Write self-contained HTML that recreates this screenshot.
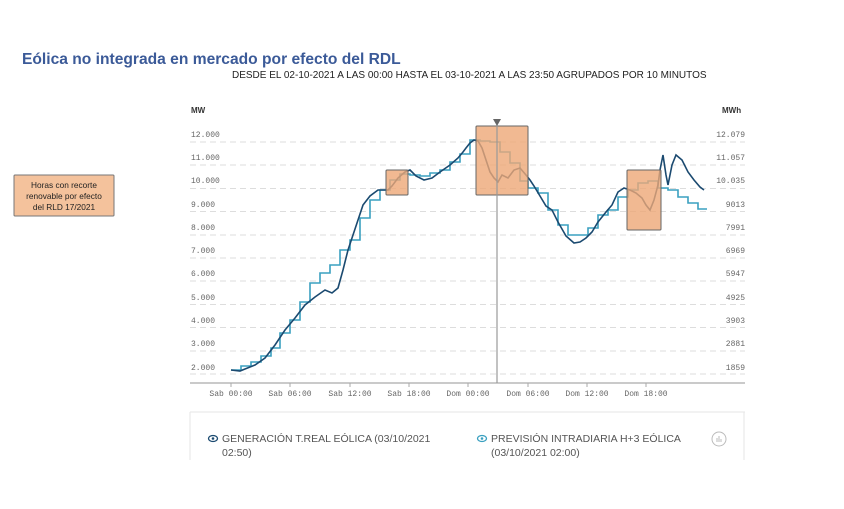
<!DOCTYPE html>
<html><head><meta charset="utf-8"><style>
body{margin:0;background:#fff;width:844px;height:509px;overflow:hidden;font-family:"Liberation Sans",sans-serif}
</style></head><body>
<svg width="844" height="509" xmlns="http://www.w3.org/2000/svg" style="position:absolute;left:0;top:0">
<text x="22" y="64" font-family="Liberation Sans" font-weight="bold" font-size="15.6" fill="#3b5a98">Eólica no integrada en mercado por efecto del RDL</text>
<text x="232" y="78" font-family="Liberation Sans" font-size="10" fill="#222">DESDE EL 02-10-2021 A LAS 00:00 HASTA EL 03-10-2021 A LAS 23:50 AGRUPADOS POR 10 MINUTOS</text>
<text x="191" y="113" font-family="Liberation Sans" font-weight="bold" font-size="8" fill="#333">MW</text>
<text x="722" y="113" font-family="Liberation Sans" font-weight="bold" font-size="8" fill="#333">MWh</text>
<g stroke="#ddd" stroke-width="1" stroke-dasharray="6,4">
<line x1="190" x2="745" y1="142" y2="142"/><line x1="190" x2="745" y1="165" y2="165"/><line x1="190" x2="745" y1="188.5" y2="188.5"/><line x1="190" x2="745" y1="211.5" y2="211.5"/><line x1="190" x2="745" y1="235" y2="235"/><line x1="190" x2="745" y1="258" y2="258"/><line x1="190" x2="745" y1="281" y2="281"/><line x1="190" x2="745" y1="304.5" y2="304.5"/><line x1="190" x2="745" y1="327.5" y2="327.5"/><line x1="190" x2="745" y1="351" y2="351"/><line x1="190" x2="745" y1="374" y2="374"/>
</g>
<g font-family="Liberation Mono" font-size="8" fill="#666">
<text x="191" y="137">12.000</text><text x="191" y="160">11.000</text><text x="191" y="183">10.000</text><text x="191" y="207">9.000</text><text x="191" y="230">8.000</text><text x="191" y="253">7.000</text><text x="191" y="276">6.000</text><text x="191" y="300">5.000</text><text x="191" y="323">4.000</text><text x="191" y="346">3.000</text><text x="191" y="370">2.000</text>
</g>
<g font-family="Liberation Mono" font-size="8" fill="#666" text-anchor="end">
<text x="745" y="137">12.079</text><text x="745" y="160">11.057</text><text x="745" y="183">10.035</text><text x="745" y="207">9013</text><text x="745" y="230">7991</text><text x="745" y="253">6969</text><text x="745" y="276">5947</text><text x="745" y="300">4925</text><text x="745" y="323">3903</text><text x="745" y="346">2881</text><text x="745" y="370">1859</text>
</g>
<line x1="190" x2="745" y1="383" y2="383" stroke="#aaa" stroke-width="1.2"/>
<g stroke="#aaa"><line x1="231" x2="231" y1="383" y2="387"/><line x1="290" x2="290" y1="383" y2="387"/><line x1="350" x2="350" y1="383" y2="387"/><line x1="409" x2="409" y1="383" y2="387"/><line x1="468" x2="468" y1="383" y2="387"/><line x1="528" x2="528" y1="383" y2="387"/><line x1="587" x2="587" y1="383" y2="387"/><line x1="646" x2="646" y1="383" y2="387"/></g>
<g font-family="Liberation Mono" font-size="8" fill="#666" text-anchor="middle">
<text x="231" y="396">Sab 00:00</text><text x="290" y="396">Sab 06:00</text><text x="350" y="396">Sab 12:00</text><text x="409" y="396">Sab 18:00</text><text x="468" y="396">Dom 00:00</text><text x="528" y="396">Dom 06:00</text><text x="587" y="396">Dom 12:00</text><text x="646" y="396">Dom 18:00</text>
</g>
<polyline fill="none" stroke="#3aa0c0" stroke-width="1.6" points="231,370 241,370 241,366 251,366 251,362 261,362 261,356 271,356 271,348 280,348 280,333 290,333 290,320 300,320 300,302 310,302 310,283 320,283 320,273 330,273 330,265 340,265 340,250 350,250 350,240 360,240 360,218 370,218 370,200 380,200 380,190 390,190 390,180 400,180 400,174 410,174 410,175 420,175 420,176 430,176 430,173 440,173 440,170 450,170 450,162 460,162 460,154 470,154 470,140 480,140 480,141 490,141 490,142 500,142 500,152 510,152 510,163 520,163 520,181 528,181 528,188 538,188 538,193 548,193 548,210 558,210 558,225 568,225 568,235 578,235 588,235 588,228 598,228 598,215 608,215 608,210 618,210 618,197 628,197 628,190 638,190 638,183 648,183 648,181 658,181 658,188 668,188 668,190 678,190 678,197 688,197 688,203 698,203 698,209 707,209"/>
<polyline fill="none" stroke="#1b4a70" stroke-width="1.6" points="231,370 240,371 245,369 255,365 265,358 275,345 285,330 295,318 305,305 315,297 325,290 332,293 338,288 343,270 348,250 353,235 358,220 363,205 370,196 378,190 388,190 392,186 398,178 405,172 410,170 416,176 424,180 432,178 440,172 450,165 458,158 463,152 466,148 470,143 474,140 478,141 482,148 486,160 490,172 494,178 498,182 502,175 508,178 514,170 520,168 526,175 530,180 534,186 540,196 546,206 552,210 558,222 566,236 574,243 580,242 586,238 592,232 598,222 606,212 612,205 618,192 624,188 630,190 636,193 642,198 646,205 650,210 654,200 658,185 660,170 663,155 666,175 668,185 672,165 676,155 682,160 688,172 694,180 700,187 704,190"/>
<g fill="#eea877" fill-opacity="0.8" stroke="#666" stroke-width="1">
<rect x="386" y="170" width="22" height="25" rx="1"/>
<rect x="476" y="126" width="52" height="69" rx="1"/>
<rect x="627" y="170" width="34" height="60" rx="1"/>
</g>
<line x1="497" x2="497" y1="123" y2="383" stroke="#999" stroke-width="1.2"/>
<polygon points="493,119 501,119 497,126" fill="#666"/>
<rect x="14" y="175" width="100" height="41" fill="#f4c29c" stroke="#777" stroke-width="1" rx="1"/>
<g font-family="Liberation Sans" font-size="8.3" fill="#222" text-anchor="middle">
<text x="64" y="188">Horas con recorte</text><text x="64" y="199">renovable por efecto</text><text x="64" y="210">del RLD 17/2021</text>
</g>
<line x1="190" x2="745" y1="412" y2="412" stroke="#e6e6e6"/>
<line x1="190" x2="190" y1="412" y2="460" stroke="#e6e6e6"/>
<line x1="744" x2="744" y1="412" y2="460" stroke="#e6e6e6"/>
<g font-family="Liberation Sans" font-size="10.5" fill="#555">
<text x="222" y="442">GENERACIÓN T.REAL EÓLICA (03/10/2021</text><text x="222" y="456">02:50)</text>
<text x="491" y="442">PREVISIÓN INTRADIARIA H+3 EÓLICA</text><text x="491" y="456">(03/10/2021 02:00)</text>
</g>
<g fill="none" stroke-width="1.3">
<ellipse cx="213" cy="438.5" rx="4.5" ry="3" stroke="#1b4a70"/><circle cx="213" cy="438.5" r="1.3" fill="#1b4a70"/>
<ellipse cx="482" cy="438.5" rx="4.5" ry="3" stroke="#3aa0c0"/><circle cx="482" cy="438.5" r="1.3" fill="#3aa0c0"/>
</g>
<circle cx="719" cy="439" r="7" fill="none" stroke="#bbb"/>
<line x1="717" x2="717" y1="438" y2="442" stroke="#bbb"/><line x1="719" x2="719" y1="436" y2="442" stroke="#bbb"/><line x1="721" x2="721" y1="439" y2="442" stroke="#bbb"/>
</svg>
</body></html>
